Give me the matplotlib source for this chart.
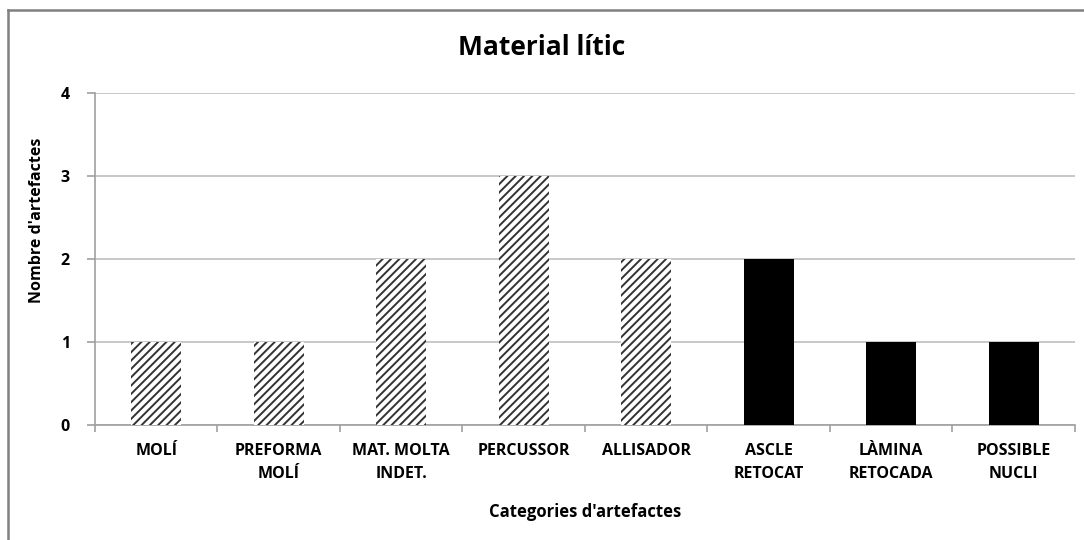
import matplotlib.pyplot as plt
from matplotlib.lines import Line2D

# ---------- dades ----------
categories = ['MOLÍ', 'PREFORMA\nMOLÍ', 'MAT. MOLTA\nINDET.', 'PERCUSSOR',
              'ALLISADOR', 'ASCLE\nRETOCAT', 'LÀMINA\nRETOCADA', 'POSSIBLE\nNUCLI']
values = [1, 1, 2, 3, 2, 2, 1, 1]
hatched = [True, True, True, True, True, False, False, False]

plt.rcParams['font.family'] = ['Open Sans', 'DejaVu Sans']
plt.rcParams['hatch.linewidth'] = 1.4
plt.rcParams['hatch.color'] = '#333333'

fig = plt.figure(figsize=(10.84, 5.4), dpi=100)
ax = fig.add_axes([0.0876, 0.213, 0.904, 0.615])

# marc del gràfic (vora esquerra i superior)
bx, by = 8 / 1084, 1 - 10 / 540
fig.add_artist(Line2D([bx, bx], [0, by], transform=fig.transFigure,
                      color='#808080', linewidth=1.8))
fig.add_artist(Line2D([bx, 1], [by, by], transform=fig.transFigure,
                      color='#808080', linewidth=1.8))

x = list(range(len(categories)))
for xi, v, h in zip(x, values, hatched):
    if h:
        ax.bar(xi, v, width=0.41, color='white', hatch='////',
               edgecolor='#333333', linewidth=0, zorder=3)
    else:
        ax.bar(xi, v, width=0.41, color='black', linewidth=0, zorder=3)

ax.set_xlim(-0.5, len(categories) - 0.5)
ax.set_ylim(0, 4)
ax.set_yticks([0, 1, 2, 3, 4])
ax.set_yticklabels(['0', '1', '2', '3', '4'], fontsize=11.5, fontweight='bold')
ax.yaxis.grid(True, color='#bfbfbf', linewidth=1.2)
ax.set_axisbelow(True)

ax.set_xticks(x)
ax.set_xticklabels(categories, fontsize=11.5, fontweight='bold', linespacing=1.55)
ax.tick_params(axis='x', length=0, pad=13)
ax.set_xticks([i + 0.5 for i in range(-1, len(categories))], minor=True)
ax.tick_params(axis='x', which='minor', length=5, color='#a0a0a0', width=1.2)
ax.tick_params(axis='y', length=6, color='#a0a0a0', width=1.2, pad=12)

for s in ['top', 'right']:
    ax.spines[s].set_visible(False)
ax.spines['left'].set_color('#a0a0a0')
ax.spines['bottom'].set_color('#a0a0a0')
ax.spines['left'].set_linewidth(1.2)
ax.spines['bottom'].set_linewidth(1.2)

ax.set_xlabel("Categories d'artefactes", fontsize=12, fontweight='bold')
ax.xaxis.set_label_coords(0.5, -0.236)
ax.set_ylabel("Nombre d'artefactes", fontsize=11.5, fontweight='bold')
ax.yaxis.set_label_coords(-0.051, 0.617)
fig.suptitle('Material lític', fontsize=19, fontweight='bold', y=0.937)

fig.savefig('out.png', dpi=100)
